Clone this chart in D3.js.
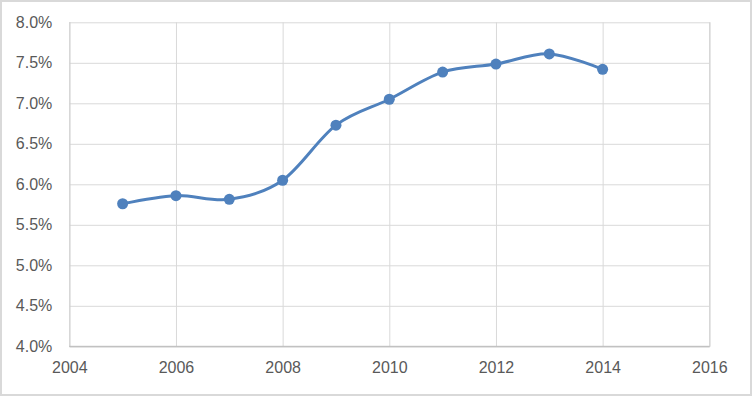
<!DOCTYPE html>
<html>
<head>
<meta charset="utf-8">
<script src="https://cdn.jsdelivr.net/npm/d3@7"></script>
<style>
  body { margin: 0; background: #fff; }
  svg { display: block; }
</style>
</head>
<body>
<div id="app"></div>
<script>
// Data
const years = [2005, 2006, 2007, 2008, 2009, 2010, 2011, 2012, 2013, 2014];
const rates = [5.76, 5.86, 5.815, 6.05, 6.73, 7.05, 7.385, 7.485, 7.61, 7.42];
const xTicks = [2004, 2006, 2008, 2010, 2012, 2014, 2016];
const yTicks = [4.0, 4.5, 5.0, 5.5, 6.0, 6.5, 7.0, 7.5, 8.0];

const width = 752;
const height = 396;
const margin = { top: 22.3, right: 42.7, bottom: 49.7, left: 69.3 };
const chartWidth = width - margin.left - margin.right;
const chartHeight = height - margin.top - margin.bottom;

const svg = d3.select('#app').append('svg')
  .attr('width', width)
  .attr('height', height);

// outer frame
svg.append('rect')
  .attr('x', 1).attr('y', 1)
  .attr('width', width - 2).attr('height', height - 2)
  .attr('fill', '#fff')
  .attr('stroke', '#d9d9d9')
  .attr('stroke-width', 2);

const xScale = d3.scaleLinear().domain([2004, 2016]).range([0, chartWidth]);
const yScale = d3.scaleLinear().domain([4, 8]).range([chartHeight, 0]);

const wrapper = svg.append('g')
  .attr('transform', `translate(${margin.left},${margin.top})`);

const font = '"Liberation Sans", Arial, sans-serif';

// Axis Y (gridlines + labels)
const axisY = d3.axisLeft(yScale)
  .tickValues(yTicks)
  .tickSize(-chartWidth)
  .tickPadding(17)
  .tickFormat((d) => d3.format('.1f')(d) + '%');
const axisYG = wrapper.append('g').call(axisY);
axisYG.select('.domain').remove();
axisYG.selectAll('line').attr('stroke', '#d9d9d9');
axisYG.selectAll('text')
  .attr('fill', '#595959')
  .attr('font-size', 16)
  .attr('font-family', font);

// Axis X
const axisX = d3.axisBottom(xScale)
  .tickValues(xTicks)
  .tickSize(-chartHeight)
  .tickPadding(15)
  .tickFormat(d3.format('d'));
const axisXG = wrapper.append('g')
  .attr('transform', `translate(0,${chartHeight})`)
  .call(axisX);
axisXG.select('.domain').attr('stroke', '#bfbfbf');
axisXG.selectAll('line').attr('stroke', '#d9d9d9');
axisXG.selectAll('text')
  .attr('fill', '#595959')
  .attr('font-size', 16)
  .attr('font-family', font);

// bottom axis line drawn over gridlines
wrapper.append('line')
  .attr('x1', 0).attr('x2', chartWidth)
  .attr('y1', chartHeight).attr('y2', chartHeight)
  .attr('stroke', '#bfbfbf');

const data = years.map((y, i) => ({ year: y, value: rates[i] }));

// smoothed line
const line = d3.line()
  .curve(d3.curveCatmullRom.alpha(0))
  .x((d) => xScale(d.year))
  .y((d) => yScale(d.value));

wrapper.append('path')
  .attr('d', line(data))
  .attr('fill', 'none')
  .attr('stroke', '#4f81bd')
  .attr('stroke-width', 3)
  .attr('stroke-linecap', 'round');

wrapper.selectAll('circle')
  .data(data)
  .join('circle')
  .attr('cx', (d) => xScale(d.year))
  .attr('cy', (d) => yScale(d.value))
  .attr('r', 5.5)
  .attr('fill', '#4f81bd');
</script>
</body>
</html>
